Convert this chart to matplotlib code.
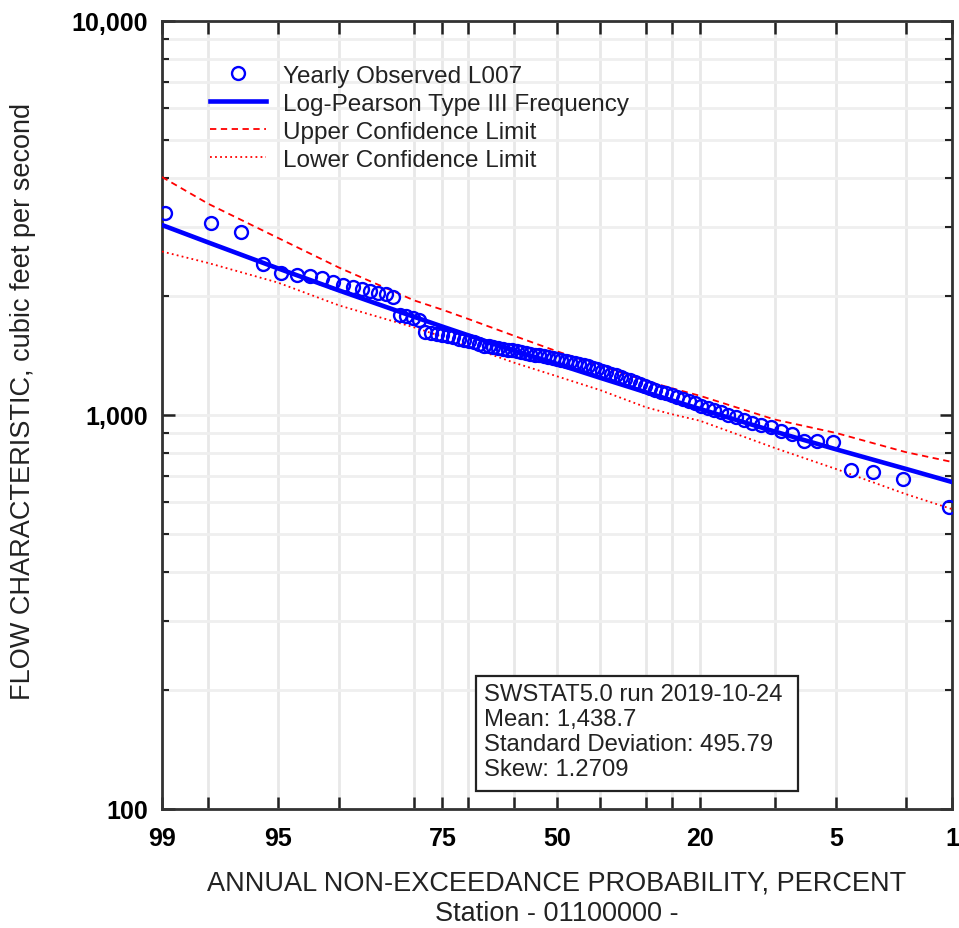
import numpy as np
import matplotlib
matplotlib.use("Agg")
import matplotlib.pyplot as plt
from matplotlib.ticker import FixedLocator, NullFormatter, FixedFormatter
from matplotlib.patches import Rectangle
from statistics import NormalDist
import math

# ---------------- data ----------------
# observed annual values, sorted from largest to smallest (cfs)
observed_flow = [3256, 3066, 2917, 2417, 2290, 2270, 2250, 2225, 2180, 2140,
                 2110, 2090, 2065, 2045, 2025, 1990, 1790, 1780, 1760, 1745,
                 1629, 1615, 1606, 1596, 1587, 1573, 1559, 1546, 1537, 1528,
                 1515, 1501, 1493, 1484, 1475, 1471, 1462, 1458, 1450, 1446,
                 1437, 1429, 1421, 1416, 1408, 1400, 1396, 1388, 1379, 1371,
                 1363, 1355, 1347, 1336, 1328, 1316, 1309, 1297, 1286, 1271,
                 1260, 1249, 1234, 1224, 1213, 1199, 1185, 1171, 1157, 1147,
                 1137, 1124, 1111, 1098, 1085, 1073, 1057, 1042, 1030, 1015,
                 1000, 986, 971, 957, 943, 930, 911, 895, 861, 857,
                 852, 726, 718, 688, 583]

# fitted curve and confidence limits at non-exceedance probabilities (percent)
curve_prob = [99, 98, 95, 90, 80, 75, 70, 60, 50, 40, 30, 25, 20, 10, 5, 2, 1]
lp3_flow   = [3035, 2741, 2357, 2069, 1775, 1676, 1594, 1456, 1348, 1243, 1142,
              1090, 1036, 908, 818, 730, 676]
upper_flow = [4018, 3436, 2817, 2364, 1954, 1850, 1754, 1589, 1451, 1334, 1220,
              1170, 1119, 974, 900, 805, 760]
lower_flow = [2600, 2431, 2169, 1896, 1669, 1580, 1494, 1358, 1254, 1157, 1046,
              1005, 967, 825, 729, 630, 577]

xtick_values = [99, 98, 95, 90, 80, 75, 70, 60, 50, 40, 30, 25, 20, 10, 5, 2, 1]
xtick_labeled = [99, 95, 75, 50, 20, 5, 1]
ytick_values = [100, 1000, 10000]
ytick_labels = ["100", "1,000", "10,000"]

legend_labels = ["Yearly Observed L007", "Log-Pearson Type III Frequency",
                 "Upper Confidence Limit", "Lower Confidence Limit"]
stats_text = ("SWSTAT5.0 run 2019-10-24\nMean: 1,438.7\n"
              "Standard Deviation: 495.79\nSkew: 1.2709")

# ---------------- plotting ----------------
plt.rcParams['font.family'] = ['Liberation Sans', 'DejaVu Sans']

_nd = NormalDist()
_ppf = np.vectorize(lambda q: _nd.inv_cdf(q), otypes=[float])
_cdf = np.vectorize(lambda z: 0.5 * (1 + math.erf(z / math.sqrt(2))), otypes=[float])


def fwd(p):
    p = np.clip(np.asarray(p, dtype=float), 1e-7, 100 - 1e-7)
    return _ppf(p / 100.0)


def inv(z):
    z = np.asarray(z, dtype=float)
    return 100.0 * _cdf(z)


n = len(observed_flow)
obs_prob = [100.0 * (1 - (i + 1) / (n + 1)) for i in range(n)]  # Weibull plotting position

fig = plt.figure(figsize=(9.59, 9.29), dpi=100)
ax = fig.add_axes([162 / 959, 1 - 810 / 929, 790 / 959, 788 / 929])
ax.set_xscale('function', functions=(fwd, inv))
ax.set_yscale('log')

l_obs, = ax.plot(obs_prob, observed_flow, linestyle='none', marker='o',
                 markersize=9.3, markerfacecolor='none', markeredgecolor='#0000ff',
                 markeredgewidth=1.7, zorder=4)
l_fit, = ax.plot(curve_prob, lp3_flow, color='#0000ff', lw=3.3, zorder=5)
l_up, = ax.plot(curve_prob, upper_flow, color='#ff0000', lw=1.3,
                linestyle=(0, (3.5, 2.5)), zorder=3)
l_lo, = ax.plot(curve_prob, lower_flow, color='#ff0000', lw=1.3,
                linestyle=(0, (1, 1.8)), zorder=3)

ax.set_xlim(99, 1)
ax.set_ylim(100, 10000)

ax.xaxis.set_major_locator(FixedLocator(xtick_values))
ax.xaxis.set_major_formatter(FixedFormatter(
    [str(v) if v in xtick_labeled else "" for v in xtick_values]))
ax.xaxis.set_minor_locator(FixedLocator([]))
ax.yaxis.set_major_locator(FixedLocator(ytick_values))
ax.yaxis.set_major_formatter(FixedFormatter(ytick_labels))
minor_y = [m * d for d in (100, 1000) for m in range(2, 10)]
ax.yaxis.set_minor_locator(FixedLocator(minor_y))
ax.yaxis.set_minor_formatter(NullFormatter())

ax.grid(True, which='major', axis='x', color='#e8e8e8', lw=2.0, zorder=0)
ax.grid(True, which='both', axis='y', color='#efefef', lw=2.0, zorder=0)
ax.set_axisbelow(True)

ax.tick_params(axis='both', which='major', direction='in', length=9, width=1.8,
               color='#222222', top=True, right=True, labelsize=18, pad=12)
ax.tick_params(axis='y', which='major', pad=10)
ax.tick_params(axis='y', which='minor', direction='in', length=5, width=1.5,
               color='#222222', left=True, right=True)
for lab in ax.get_xticklabels() + ax.get_yticklabels():
    lab.set_fontweight('bold')
for sp in ax.spines.values():
    sp.set_color('#333333')
    sp.set_linewidth(2)

leg = ax.legend([l_obs, l_fit, l_up, l_lo], legend_labels, loc='upper left',
                bbox_to_anchor=(0.049, 0.957), frameon=False, fontsize=17.5,
                handlelength=2.3, handletextpad=0.7, labelspacing=0.25,
                borderaxespad=0.0)
for t in leg.get_texts():
    t.set_color('#222222')

# statistics box
ax.add_patch(Rectangle((0.3975, 0.0228), 0.8051 - 0.3975, 0.1688 - 0.0228,
                       transform=ax.transAxes, facecolor='white',
                       edgecolor='#222222', linewidth=1.6, zorder=6))
ax.text(0.4076, 0.1600, stats_text, transform=ax.transAxes, ha='left', va='top',
        fontsize=17.2, color='#222222', linespacing=1.17, zorder=7)

fig.text(557 / 959, 1 - 884 / 929, "ANNUAL NON-EXCEEDANCE PROBABILITY, PERCENT",
         ha='center', va='center', fontsize=19.5, color='#222222')
fig.text(557 / 959, 1 - 914 / 929, "Station - 01100000 -",
         ha='center', va='center', fontsize=19.5, color='#222222')
fig.text(23 / 959, 1 - 401 / 929, "FLOW CHARACTERISTIC, cubic feet per second",
         ha='center', va='center', rotation=90, fontsize=19.5, color='#222222')

fig.savefig("out.png", dpi=100, facecolor='white')
